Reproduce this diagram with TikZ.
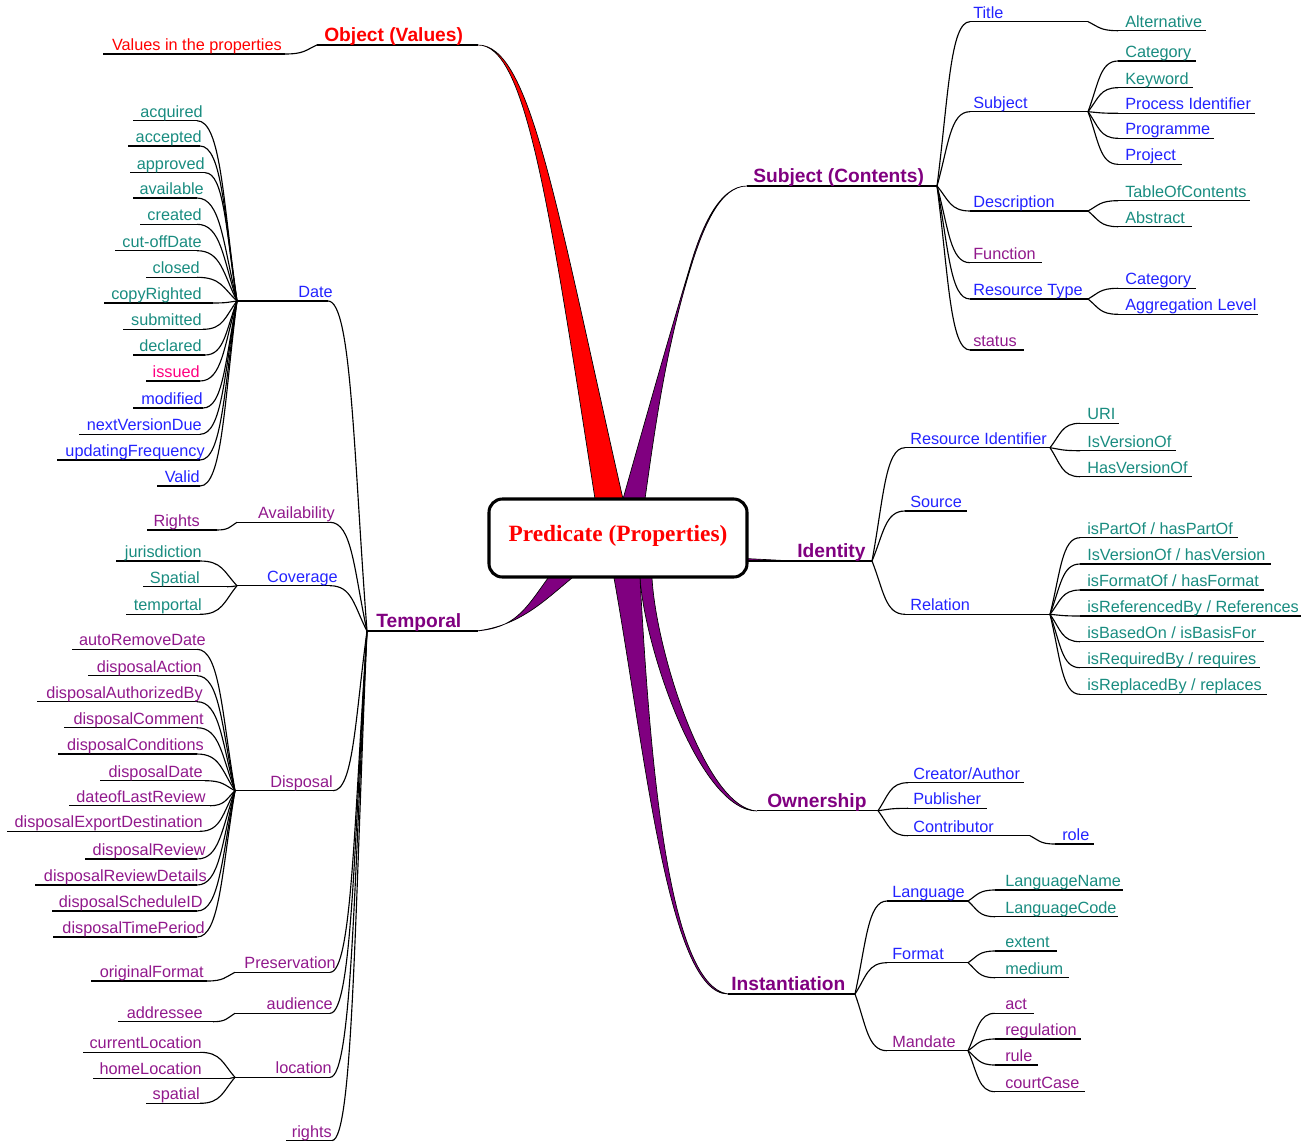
\documentclass[tikz,border=0pt]{standalone}
\usepackage{fontspec}
\setmainfont{Liberation Sans}
\newfontfamily\serifb{Liberation Serif}
\usetikzlibrary{calc}
\definecolor{cteal}{RGB}{25,140,128}
\definecolor{cblue}{RGB}{35,35,255}
\definecolor{cpurp}{RGB}{128,0,128}
\definecolor{cpurpl}{RGB}{145,25,140}
\definecolor{cpink}{RGB}{255,0,128}
\definecolor{cred}{RGB}{255,0,0}
\tikzset{
  uline/.style={line width=0.85pt, black},
  conn/.style={line width=0.85pt, black},
  lab/.style={inner sep=0pt, font=\fontsize{12.2}{14}\selectfont},
  blab/.style={inner sep=0pt, font=\fontsize{14.4}{17}\selectfont\bfseries},
  lteal/.style={lab, text=cteal},
  lblue/.style={lab, text=cblue},
  lpurp/.style={lab, text=cpurpl},
  lpink/.style={lab, text=cpink},
  lred/.style={lab, text=cred},
  bpurp/.style={blab, text=cpurp},
  bred/.style={blab, text=cred},
  redbranch/.style={fill=cred, draw=black, line width=0.5pt},
  purpbranch/.style={fill=cpurp, draw=black, line width=0.5pt},
  predbox/.style={draw, fill=white, line width=2.3pt, rounded corners=10pt,
    minimum width=193.5pt, minimum height=58.5pt, inner sep=0pt},
  predtext/.style={inner sep=0pt, text=cred,
    font=\serifb\bfseries\fontsize{17.5}{20}\selectfont}
}
% right-hand label: name, text x, underline y, x1, x2, style, text
\newcommand{\rlab}[7]{%
  \coordinate (#1-l) at (#4,#3);
  \coordinate (#1-r) at (#5,#3);
  \draw[uline] (#1-l) -- (#1-r);
  \node[#6, anchor=base west] (#1) at (#2,#3-3.5) {#7};}
% left-hand label: name, text right x, underline y, x1, x2, style, text
\newcommand{\llab}[7]{%
  \coordinate (#1-l) at (#4,#3);
  \coordinate (#1-r) at (#5,#3);
  \draw[uline] (#1-l) -- (#1-r);
  \node[#6, anchor=base east] (#1) at (#2,#3-3.5) {#7};}
% connector from fan point to child line end
\newcommand{\brc}[2]{%
  \draw[conn] let \p1=(#1), \p2=(#2) in (#1) .. controls
    ({\x1+0.35*(\x2-\x1)},{\y1+0.55*(\y2-\y1)}) and
    ({\x2-0.6*(\x2-\x1)},\y2) .. (#2);}
\begin{document}
\begin{tikzpicture}[x=0.75pt, y=-0.75pt]
\useasboundingbox (0,0) rectangle (1312,1142);

% ---------- coordinates of main branch ends ----------
\coordinate (OVend) at (478,45);
\coordinate (SCend) at (747,186);
\coordinate (Ownend) at (757,811);
\coordinate (Instend) at (728,994);
\coordinate (Tempend) at (476,631);

% ---------- thick branches ----------
\filldraw[redbranch] (OVend) .. controls (525,45) and (548,195) .. (595,499)
  -- (597,510) -- (625,510) -- (623,499)
  .. controls (555,200) and (530,45) .. (OVend) -- cycle;
\filldraw[purpbranch] (SCend) .. controls (720,186) and (702.8,227.6) .. (690,270)
  .. controls (666,349.5) and (655.8,422) .. (645,499)
  -- (647,510) -- (621,510) -- (623,499)
  .. controls (651.8,397) and (669.8,333.6) .. (689,270)
  .. controls (701,228) and (719,186) .. (SCend) -- cycle;
\filldraw[purpbranch] (640,570) -- (640,578) .. controls (645,650) and (700,811) .. (Ownend)
  .. controls (705,808) and (656,650) .. (652,578) -- (652,570) -- cycle;
\filldraw[purpbranch] (614,570) -- (614,578) .. controls (645,750) and (668,994) .. (Instend)
  .. controls (668,985) and (650,760) .. (640,578) -- (640,570) -- cycle;
\filldraw[purpbranch] (548,570) -- (548,578) .. controls (525,610) and (515,628) .. (Tempend)
  .. controls (520,626) and (545,600) .. (572,578) -- (572,570) -- cycle;
\filldraw[purpbranch] (745,558.5) -- (790,560.8) -- (745,561.5) -- cycle;

% ---------- Object (Values) ----------
\rlab{OV}{324}{45}{317}{478}{bred}{Object (Values)}
\llab{VP}{282}{54}{103}{285}{lred}{Values in the properties}
\brc{OV-l}{VP-r}

% ---------- Subject (Contents) ----------
\rlab{SC}{753}{186}{747}{937}{bpurp}{Subject (Contents)}
\rlab{Title}{973}{21.7}{970}{1088}{lblue}{Title}
\rlab{Alt}{1125}{30.7}{1118}{1206}{lteal}{Alternative}
\rlab{Subj}{973}{111.7}{970}{1088}{lblue}{Subject}
\rlab{CatA}{1125}{61}{1118}{1196}{lteal}{Category}
\rlab{Kw}{1125}{87.7}{1118}{1193}{lteal}{Keyword}
\rlab{PI}{1125}{113.3}{1118}{1255}{lblue}{Process Identifier}
\rlab{Prog}{1125}{138.3}{1118}{1214}{lblue}{Programme}
\rlab{Proj}{1125}{164.3}{1118}{1182}{lblue}{Project}
\rlab{Desc}{973}{211}{970}{1088}{lblue}{Description}
\rlab{ToC}{1125}{200.7}{1118}{1250}{lteal}{TableOfContents}
\rlab{Abs}{1125}{226.7}{1118}{1192}{lteal}{Abstract}
\rlab{Func}{973}{262.7}{970}{1042}{lpurp}{Function}
\rlab{RT}{973}{299}{970}{1088}{lblue}{Resource Type}
\rlab{CatB}{1125}{288.3}{1118}{1196}{lblue}{Category}
\rlab{AL}{1125}{314.3}{1118}{1258}{lblue}{Aggregation Level}
\rlab{Stat}{973}{350}{970}{1024}{lpurp}{status}
\foreach \c in {Title,Subj,Desc,Func,RT,Stat} {\brc{SC-r}{\c-l}}
\brc{Title-r}{Alt-l}
\foreach \c in {CatA,Kw,PI,Prog,Proj} {\brc{Subj-r}{\c-l}}
\foreach \c in {ToC,Abs} {\brc{Desc-r}{\c-l}}
\foreach \c in {CatB,AL} {\brc{RT-r}{\c-l}}

% ---------- Identity ----------
\rlab{Id}{797}{561}{747}{872}{bpurp}{Identity}
\rlab{RI}{910}{447.7}{905}{1050}{lblue}{Resource Identifier}
\rlab{URI}{1087}{423.3}{1080}{1119}{lteal}{URI}
\rlab{IVO}{1087}{450.7}{1080}{1176}{lteal}{IsVersionOf}
\rlab{HVO}{1087}{476.7}{1080}{1192}{lteal}{HasVersionOf}
\rlab{Src}{910}{511}{905}{967}{lblue}{Source}
\rlab{Rel}{910}{614.3}{905}{1050}{lblue}{Relation}
\rlab{RA}{1087}{537.7}{1080}{1238}{lteal}{isPartOf / hasPartOf}
\rlab{RB}{1087}{564}{1080}{1271}{lteal}{IsVersionOf / hasVersion}
\rlab{RC}{1087}{590}{1080}{1264}{lteal}{isFormatOf / hasFormat}
\rlab{RD}{1087}{616}{1080}{1301}{lteal}{isReferencedBy / References}
\rlab{RE}{1087}{641.7}{1080}{1264}{lteal}{isBasedOn / isBasisFor}
\rlab{RF}{1087}{667.7}{1080}{1260}{lteal}{isRequiredBy / requires}
\rlab{RG}{1087}{694.3}{1080}{1267}{lteal}{isReplacedBy / replaces}
\foreach \c in {RI,Src,Rel} {\brc{Id-r}{\c-l}}
\foreach \c in {URI,IVO,HVO} {\brc{RI-r}{\c-l}}
\foreach \c in {RA,RB,RC,RD,RE,RF,RG} {\brc{Rel-r}{\c-l}}

% ---------- Ownership ----------
\rlab{Own}{767}{810.7}{757}{878}{bpurp}{Ownership}
\rlab{CA}{913}{782.7}{908}{1024}{lblue}{Creator/Author}
\rlab{Pub}{913}{808.3}{908}{987}{lblue}{Publisher}
\rlab{Con}{913}{835.7}{908}{1030}{lblue}{Contributor}
\rlab{Role}{1062}{844}{1055}{1094}{lblue}{role}
\foreach \c in {CA,Pub,Con} {\brc{Own-r}{\c-l}}
\brc{Con-r}{Role-l}

% ---------- Instantiation ----------
\rlab{Inst}{731}{994}{728}{855}{bpurp}{Instantiation}
\rlab{Lang}{892}{901}{887}{968}{lblue}{Language}
\rlab{LN}{1005}{890}{995}{1123}{lteal}{LanguageName}
\rlab{LC}{1005}{916.7}{995}{1118}{lteal}{LanguageCode}
\rlab{Fmt}{892}{962.7}{887}{968}{lblue}{Format}
\rlab{Ext}{1005}{951}{995}{1057}{lteal}{extent}
\rlab{Med}{1005}{977.7}{995}{1069}{lteal}{medium}
\rlab{Mand}{892}{1050.7}{887}{968}{lpurp}{Mandate}
\rlab{Act}{1005}{1013.3}{995}{1034}{lpurp}{act}
\rlab{Reg}{1005}{1039}{995}{1081}{lpurp}{regulation}
\rlab{Rule}{1005}{1065}{995}{1038}{lpurp}{rule}
\rlab{CC}{1005}{1091.7}{995}{1085}{lpurp}{courtCase}
\foreach \c in {Lang,Fmt,Mand} {\brc{Inst-r}{\c-l}}
\foreach \c in {LN,LC} {\brc{Lang-r}{\c-l}}
\foreach \c in {Ext,Med} {\brc{Fmt-r}{\c-l}}
\foreach \c in {Act,Reg,Rule,CC} {\brc{Mand-r}{\c-l}}

% ---------- Temporal ----------
\rlab{Temp}{376}{631}{367}{478}{bpurp}{Temporal}
\llab{Date}{333}{301}{237}{328}{lblue}{Date}
\llab{DA}{203}{120.7}{133}{197}{lteal}{acquired}
\llab{DB}{202}{146}{128}{200}{lteal}{accepted}
\llab{DC}{205}{172.7}{130}{205}{lteal}{approved}
\llab{DD}{204}{198}{133}{197}{lteal}{available}
\llab{DE}{202}{224.3}{140}{197}{lteal}{created}
\llab{DF}{202}{250.7}{115}{197}{lteal}{cut-offDate}
\llab{DG}{200}{277.3}{146}{197}{lteal}{closed}
\llab{DH}{202}{303}{104}{213}{lteal}{copyRighted}
\llab{DI}{202}{329.3}{123}{203}{lteal}{submitted}
\llab{DJ}{202}{355}{133}{205}{lteal}{declared}
\llab{DK}{200}{381}{146}{200}{lpink}{issued}
\llab{DL}{203}{408}{133}{203}{lblue}{modified}
\llab{DM}{202}{434.3}{79}{200}{lblue}{nextVersionDue}
\llab{DN}{205}{460}{57}{200}{lblue}{updatingFrequency}
\llab{DO}{200}{486}{157}{200}{lblue}{Valid}
\foreach \c in {DA,DB,DC,DD,DE,DF,DG,DH,DI,DJ,DK,DL,DM,DN,DO} {\brc{Date-l}{\c-r}}

\llab{Avail}{335}{522.3}{237}{330}{lpurp}{Availability}
\llab{Rights}{200}{530}{147}{217}{lpurp}{Rights}
\brc{Avail-l}{Rights-r}

\llab{Cov}{338}{585.7}{237}{330}{lblue}{Coverage}
\llab{Jur}{202}{561}{116}{200}{lteal}{jurisdiction}
\llab{Spa}{200}{586.7}{143}{227}{lteal}{Spatial}
\llab{Tmp}{202}{614.3}{126}{200}{lteal}{temportal}
\foreach \c in {Jur,Spa,Tmp} {\brc{Cov-l}{\c-r}}

\llab{Disp}{333}{790.7}{235}{333}{lpurp}{Disposal}
\llab{PA}{206}{649.3}{72}{197}{lpurp}{autoRemoveDate}
\llab{PB}{202}{675.7}{88}{197}{lpurp}{disposalAction}
\llab{PC}{203}{701.7}{37}{197}{lpurp}{disposalAuthorizedBy}
\llab{PD}{204}{727.7}{64}{197}{lpurp}{disposalComment}
\llab{PE}{204}{754}{58}{197}{lpurp}{disposalConditions}
\llab{PF}{203}{780.7}{100}{205}{lpurp}{disposalDate}
\llab{PG}{206}{805.7}{69}{210}{lpurp}{dateofLastReview}
\llab{PH}{203}{831.3}{7}{200}{lpurp}{disposalExportDestination}
\llab{PI2}{206}{859}{85}{197}{lpurp}{disposalReview}
\llab{PJ}{207}{885}{35}{197}{lpurp}{disposalReviewDetails}
\llab{PK}{203}{911}{52}{197}{lpurp}{disposalScheduleID}
\llab{PL}{205}{937}{53}{197}{lpurp}{disposalTimePeriod}
\foreach \c in {PA,PB,PC,PD,PE,PF,PG,PH,PI2,PJ,PK,PL} {\brc{Disp-l}{\c-r}}

\llab{Pres}{336}{972.3}{235}{330}{lpurp}{Preservation}
\llab{OF}{204}{981}{91}{207}{lpurp}{originalFormat}
\brc{Pres-l}{OF-r}

\llab{Aud}{333}{1013.3}{235}{330}{lpurp}{audience}
\llab{Addr}{203}{1021.7}{118}{213}{lpurp}{addressee}
\brc{Aud-l}{Addr-r}

\llab{Loc}{332}{1077.3}{235}{330}{lpurp}{location}
\llab{CL}{202}{1052.3}{83}{200}{lpurp}{currentLocation}
\llab{HL}{202}{1078.3}{93}{230}{lpurp}{homeLocation}
\llab{Spt}{200}{1103.3}{146}{200}{lpurp}{spatial}
\foreach \c in {CL,HL,Spt} {\brc{Loc-l}{\c-r}}

\llab{Rgt}{332}{1140.5}{286}{332}{lpurp}{rights}

\foreach \c in {Date,Avail,Cov,Disp,Pres,Aud,Loc,Rgt} {\brc{Temp-l}{\c-r}}

% ---------- central box ----------
\node[predbox] (pred) at (618,538) {};
\node[predtext, anchor=base] (predlabel) at (618,541) {Predicate (Properties)};
\end{tikzpicture}
\end{document}
